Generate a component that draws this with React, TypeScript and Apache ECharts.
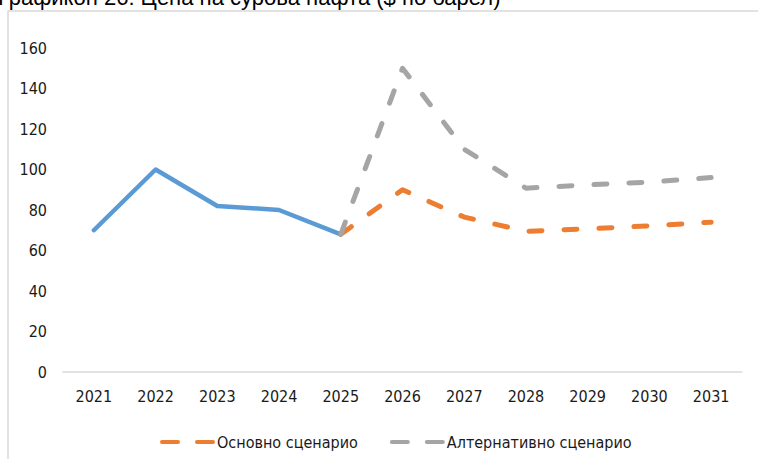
import React, { useEffect, useRef } from "react";
import * as echarts from "echarts";

const years = ["2021", "2022", "2023", "2024", "2025", "2026", "2027", "2028", "2029", "2030", "2031"];
const historical = [70, 100, 82, 80, 68, null, null, null, null, null, null];
const baseline = [null, null, null, null, 68, 90, 76.5, 69.5, 70.7, 72.2, 74];
const alternative = [null, null, null, null, 68, 150, 110, 90.8, 92.4, 93.8, 96];
const seriesNames = ["Основно сценарио", "Алтернативно сценарио"];
const titleText = "Графикон 26: Цена на сурова нафта ($ по барел)";

const NARROW = "'Liberation Sans Narrow', 'Arial Narrow', 'DejaVu Sans Condensed', sans-serif";
const dashIcon =
  "path://M2,0h16a2,2 0 0 1 0,4h-16a2,2 0 0 1 0,-4z M37,0h16a2,2 0 0 1 0,4h-16a2,2 0 0 1 0,-4z";

export default function App() {
  const ref = useRef<HTMLDivElement>(null);
  useEffect(() => {
    if (!ref.current) return;
    const chart = echarts.init(ref.current, null, { renderer: "svg" });
    chart.setOption({
      animation: false,
      backgroundColor: "#ffffff",
      graphic: [
        {
          type: "rect",
          shape: { x: 8, y: 11, width: 800, height: 500 },
          style: { fill: "none", stroke: "#d9d9d9", lineWidth: 1.5 },
          silent: true,
        },
        {
          type: "text",
          x: -2,
          y: 8,
          style: {
            text: titleText,
            font: "22px 'Liberation Sans', Arial, sans-serif",
            fill: "#000000",
            textVerticalAlign: "bottom",
            textBaseline: "alphabetic",
          },
          silent: true,
        },
      ],
      grid: { left: 63, right: 16, top: 48, bottom: 87, containLabel: false },
      xAxis: {
        type: "category",
        data: years,
        boundaryGap: true,
        axisLine: { show: true, lineStyle: { color: "#d9d9d9", width: 1.5 } },
        axisTick: { show: false },
        axisLabel: { color: "#1a1a1a", fontFamily: NARROW, fontSize: 16, margin: 16 },
        splitLine: { show: false },
      },
      yAxis: {
        type: "value",
        min: 0,
        max: 160,
        interval: 20,
        axisLine: { show: false },
        axisTick: { show: false },
        splitLine: { show: false },
        axisLabel: { color: "#1a1a1a", fontFamily: NARROW, fontSize: 16, margin: 16 },
      },
      legend: {
        data: seriesNames,
        left: 155,
        top: 429,
        icon: dashIcon,
        itemWidth: 55,
        itemHeight: 5,
        itemGap: 32,
        textStyle: { fontFamily: NARROW, fontSize: 16, color: "#1a1a1a", padding: [0, 0, 0, -3] },
      },
      series: [
        {
          name: "Исторически",
          type: "line",
          data: historical,
          symbol: "none",
          lineStyle: { color: "#5B9BD5", width: 4.5, cap: "round", join: "round" },
          itemStyle: { color: "#5B9BD5" },
        },
        {
          name: seriesNames[0],
          type: "line",
          data: baseline,
          symbol: "none",
          lineStyle: { color: "#ED7D31", width: 5, type: [13, 22], cap: "round", join: "round" },
          itemStyle: { color: "#ED7D31" },
        },
        {
          name: seriesNames[1],
          type: "line",
          data: alternative,
          symbol: "none",
          lineStyle: { color: "#A5A5A5", width: 5, type: [13, 22], cap: "round", join: "round" },
          itemStyle: { color: "#A5A5A5" },
        },
      ],
    });
    return () => chart.dispose();
  }, []);
  return (
    <div
      ref={ref}
      style={{ position: "absolute", left: 0, top: 0, width: 758, height: 459 }}
    />
  );
}
